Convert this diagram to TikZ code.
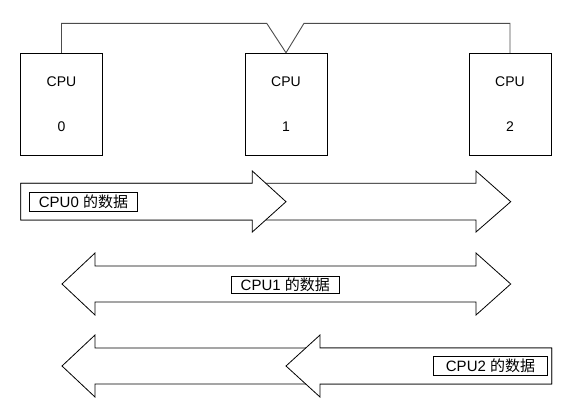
\documentclass[tikz,border=0pt]{standalone}
\usepackage{fontspec}
\setmainfont{Liberation Sans}
\newfontfamily\cjk{Noto Sans CJK SC}
\begin{document}
\begin{tikzpicture}[x=1bp,y=-1bp,
  cpubox/.style={draw=black, line width=0.9bp, minimum width=82bp, minimum height=102bp,
    inner sep=0pt, align=center, font=\fontsize{14bp}{16.8bp}\selectfont},
  link/.style={draw=black!70, line width=0.9bp},
  bigarrow/.style={draw=black, fill=white, line width=0.8bp, line join=miter},
  tag/.style={draw=black, line width=0.9bp, fill=white, inner sep=0pt,
    minimum height=19bp, font=\fontsize{15bp}{18bp}\selectfont}]
\useasboundingbox (0,0) rectangle (575,405);

% CPU boxes
\node[cpubox] (cpu0) at (61.5,104.2) {CPU\\[29bp]0};
\node[cpubox] (cpu1) at (286,104.2) {CPU\\[29bp]1};
\node[cpubox] (cpu2) at (510,104.2) {CPU\\[29bp]2};

% bus connector
\coordinate (vl) at (266.7,23.3);
\coordinate (vr) at (304,23.3);
\draw[link] (cpu0.north) |- (vl) -- (cpu1.north) -- (vr) -| (cpu2.north);

% CPU0 data (to the right)
\draw[bigarrow] (20.7,183.3) -- (476,183.3) -- (476,171) -- (510.7,201.7) -- (476,232)
  -- (476,220) -- (20.7,220) -- cycle;
\draw[bigarrow] (20.7,183.3) -- (252.3,183.3) -- (252.3,171) -- (286,201.7) -- (252.3,232)
  -- (252.3,220) -- (20.7,220) -- cycle;
\node[tag, minimum width=108.4bp] (d0) at (83.5,201.7) {CPU0 {\cjk 的数据}};

% CPU1 data (both ways)
\draw[bigarrow] (95,266) -- (476,266) -- (476,253) -- (510.7,284) -- (476,315) -- (476,302)
  -- (95,302) -- (95,315) -- (62,284) -- (95,253) -- cycle;
\node[tag, minimum width=107.3bp, minimum height=17.3bp] (d1) at (285.3,284.7) {CPU1 {\cjk 的数据}};

% CPU2 data (to the left)
\draw[bigarrow] (551.7,348) -- (95,348) -- (95,335) -- (62,366) -- (95,397) -- (95,384)
  -- (551.7,384) -- cycle;
\draw[bigarrow] (551.7,348) -- (320,348) -- (320,335) -- (286,366) -- (320,397) -- (320,384)
  -- (551.7,384) -- cycle;
\node[tag, minimum width=114.4bp] (d2) at (490.5,365.5) {CPU2 {\cjk 的数据}};
\end{tikzpicture}
\end{document}
